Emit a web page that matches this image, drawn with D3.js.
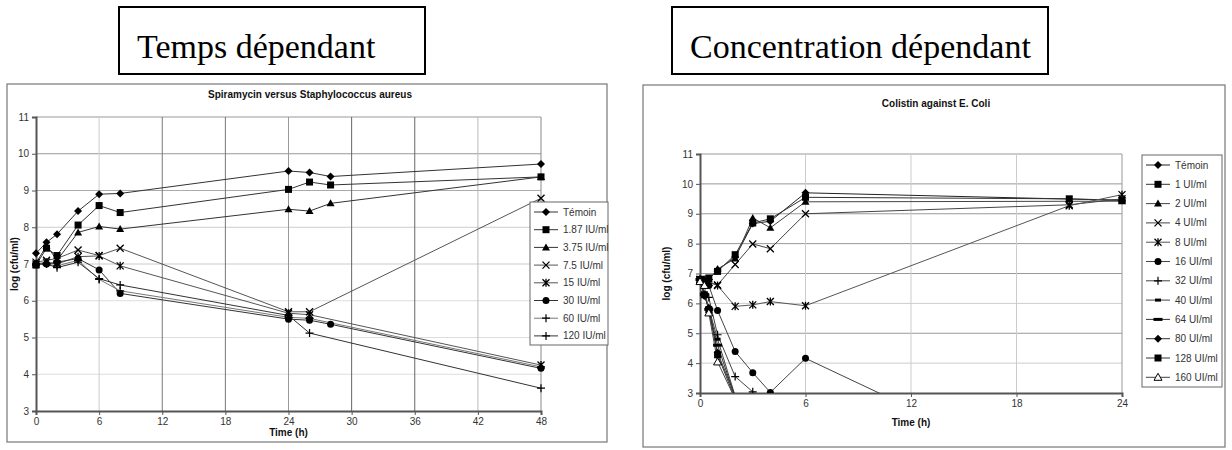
<!DOCTYPE html>
<html>
<head>
<meta charset="utf-8">
<script src="https://cdn.jsdelivr.net/npm/d3@7"></script>
<style>
  body { margin: 0; background: #fff; }
  svg { display: block; }
  text { font-family: "Liberation Sans", Arial, sans-serif; }
</style>
</head>
<body>
<svg id="chart" width="1232" height="450"></svg>
<script>
// ---- data: Spiramycin versus Staphylococcus aureus ----
var spiraTimes = [0, 1, 2, 4, 6, 8, 24, 26, 28, 48];
var spiraNames = ["Témoin", "1.87 IU/ml", "3.75 IU/ml", "7.5 IU/ml", "15 IU/ml", "30 IU/ml", "60 IU/ml", "120 IU/ml"];
var spiraMarkers = ["diamond", "square", "triangle", "x", "star", "circle", "plus", "plus"];
var spiraTemoin = [7.29, 7.59, 7.81, 8.44, 8.90, 8.92, 9.53, 9.49, 9.38, 9.72];
var spira187 = [6.97, 7.43, 7.23, 8.06, 8.59, 8.40, 9.03, 9.23, 9.15, 9.37];
var spira375 = [7.02, 7.50, 7.10, 7.86, 8.02, 7.95, 8.49, 8.44, 8.65, 9.37];
var spira75 = [7.05, 7.10, 7.15, 7.38, 7.23, 7.43, 5.70, 5.70, null, 8.79];
var spira15 = [7.00, 7.05, 7.00, 7.20, 7.22, 6.95, 5.66, 5.62, null, 4.25];
var spira30 = [7.00, 7.00, 7.05, 7.15, 6.84, 6.20, 5.50, 5.47, 5.36, 4.16];
var spira60 = [7.00, 7.00, 6.95, 7.10, 6.58, 6.27, 5.55, 5.52, null, 4.20];
var spira120 = [7.00, 7.00, 6.90, 7.05, 6.60, 6.43, 5.60, 5.12, null, 3.62];
var spiraXTicks = [0, 6, 12, 18, 24, 30, 36, 42, 48];
var logTicks = [3, 4, 5, 6, 7, 8, 9, 10, 11];

// ---- data: Colistin against E. Coli ----
var coliTimes = [0, 0.25, 0.5, 1, 2, 3, 4, 6, 21, 24];
var coliNames = ["Témoin", "1 UI/ml", "2 UI/ml", "4 UI/ml", "8 UI/ml", "16 UI/ml", "32 UI/ml", "40 UI/ml", "64 UI/ml", "80 UI/ml", "128 UI/ml", "160 UI/ml"];
var coliMarkers = ["diamond", "square", "triangle", "x", "star", "circle", "plus", "dash", "bar", "diamond", "square", "triangleOpen"];
var coliTemoin = [6.80, 6.80, 6.80, 7.12, 7.55, 8.67, 8.75, 9.70, null, 9.45];
var coli1 = [6.80, 6.75, 6.85, 7.07, 7.63, 8.69, 8.83, 9.55, 9.50, 9.45];
var coli2 = [6.75, 6.80, 6.80, 7.15, 7.50, 8.86, 8.53, 9.40, null, 9.42];
var coli4 = [6.80, 6.80, 6.70, 6.62, 7.30, 7.99, 7.83, 9.00, 9.30, 9.50];
var coli8 = [6.80, 6.75, 6.70, 6.60, 5.90, 5.95, 6.06, 5.92, 9.27, 9.64];
var coli16 = [6.80, 6.70, 6.60, 5.76, 4.39, 3.68, 3.02, 4.16, 0, null];
var coli32 = [6.80, 6.30, 6.20, 4.95, 3.55, 3.04, null, null, null, null];
var coli40 = [6.75, 6.30, 5.85, 4.80, 2.90, null, null, null, null, null];
var coli64 = [6.80, 6.30, 5.80, 4.60, 2.85, null, null, null, null, null];
var coli80 = [6.80, 6.25, 5.85, 4.35, 2.90, null, null, null, null, null];
var coli128 = [6.80, 6.29, 5.79, 4.28, 2.80, null, null, null, null, null];
var coli160 = [6.73, 6.60, 5.68, 4.04, 2.80, null, null, null, null, null];
var coliXTicks = [0, 6, 12, 18, 24];

var svg = d3.select("#chart");

// header boxes
function headerBox(x, w, label) {
  svg.append("rect").attr("x", x).attr("y", 7).attr("width", w).attr("height", 67)
    .attr("fill", "none").attr("stroke", "#000").attr("stroke-width", 2);
  svg.append("text").attr("x", x + 18).attr("y", 58)
    .style("font-family", "'Liberation Serif', 'Times New Roman', serif")
    .style("font-size", "34px").text(label);
}
headerBox(119, 306, "Temps dépendant");
headerBox(672, 376, "Concentration dépendant");

// marker path drawing
function drawMarker(g, type, cx, cy) {
  var m = g.append("g").attr("transform", "translate(" + cx + "," + cy + ")");
  if (type == "diamond") {
    m.append("path").attr("d", "M0,-4L4,0L0,4L-4,0Z").attr("fill", "#000");
  } else if (type == "square") {
    m.append("rect").attr("x", -3.5).attr("y", -3.5).attr("width", 7).attr("height", 7).attr("fill", "#000");
  } else if (type == "triangle") {
    m.append("path").attr("d", "M0,-4L4,3L-4,3Z").attr("fill", "#000");
  } else if (type == "triangleOpen") {
    m.append("path").attr("d", "M0,-4L4,3L-4,3Z").attr("fill", "#fff").attr("stroke", "#000").attr("stroke-width", 1);
  } else if (type == "circle") {
    m.append("circle").attr("r", 3.5).attr("fill", "#000");
  } else if (type == "x") {
    m.append("path").attr("d", "M-3.5,-3.5L3.5,3.5M3.5,-3.5L-3.5,3.5").attr("stroke", "#000").attr("stroke-width", 1.3);
  } else if (type == "star") {
    m.append("path").attr("d", "M-3.5,-3.5L3.5,3.5M3.5,-3.5L-3.5,3.5M0,-4L0,4").attr("stroke", "#000").attr("stroke-width", 1.3);
  } else if (type == "plus") {
    m.append("path").attr("d", "M-4,0L4,0M0,-4L0,4").attr("stroke", "#000").attr("stroke-width", 1.2);
  } else if (type == "dash") {
    m.append("rect").attr("x", -3).attr("y", -1.5).attr("width", 6).attr("height", 3).attr("fill", "#000");
  } else if (type == "bar") {
    m.append("rect").attr("x", -4.5).attr("y", -1.5).attr("width", 9).attr("height", 3).attr("fill", "#000");
  }
}

function drawChart(o) {
  var x = d3.scaleLinear().domain([o.xTicks[0], o.xTicks[o.xTicks.length - 1]]).range([o.left, o.right]);
  var y = d3.scaleLinear().domain([3, 11]).range([o.bottom, o.top]);
  var g = svg.append("g");

  // outer frame
  g.append("rect").attr("x", o.frame[0]).attr("y", o.frame[1]).attr("width", o.frame[2]).attr("height", o.frame[3])
    .attr("fill", "#fff").attr("stroke", "#777").attr("stroke-width", 1.2);

  g.append("text").attr("x", o.titleX).attr("y", o.titleY).attr("text-anchor", "middle")
    .style("font-size", "10px").style("font-weight", "bold").attr("fill", "#111").text(o.title);

  // grid
  g.append("g").selectAll("line").data(o.yTicks.slice(1)).join("line")
    .attr("x1", o.left).attr("x2", o.right).attr("y1", function (d) { return y(d); }).attr("y2", function (d) { return y(d); })
    .attr("stroke", function (d, i) { return o.hGrid[i]; }).attr("stroke-width", 1);
  g.append("g").selectAll("line").data(o.xTicks.slice(1)).join("line")
    .attr("y1", o.top).attr("y2", o.bottom).attr("x1", function (d) { return x(d); }).attr("x2", function (d) { return x(d); })
    .attr("stroke", function (d, i) { return o.vGrid[i]; }).attr("stroke-width", 1);

  // axes
  var yAxis = g.append("g").attr("transform", "translate(" + o.left + ",0)")
    .call(d3.axisLeft(y).tickValues(o.yTicks).tickSize(4).tickFormat(d3.format("d")));
  var xAxis = g.append("g").attr("transform", "translate(0," + o.bottom + ")")
    .call(d3.axisBottom(x).tickValues(o.xTicks).tickSize(4).tickFormat(d3.format("d")));
  [yAxis, xAxis].forEach(function (a) {
    a.select(".domain").attr("stroke", "#555").attr("stroke-width", 2);
    a.selectAll(".tick line").attr("stroke", "#555");
    a.selectAll(".tick text").style("font-size", "10px").attr("fill", "#333")
      .style("font-family", "'Liberation Sans', Arial, sans-serif");
  });

  g.append("text").attr("transform", "translate(" + o.yLabelX + "," + ((o.top + o.bottom) / 2) + ") rotate(-90)")
    .attr("text-anchor", "middle").style("font-size", "10px").style("font-weight", "bold").attr("fill", "#111")
    .text("log (cfu/ml)");
  g.append("text").attr("x", (o.left + o.right) / 2).attr("y", o.xLabelY).attr("text-anchor", "middle")
    .style("font-size", "10px").style("font-weight", "bold").attr("fill", "#111").text("Time (h)");

  // clipped series
  var clipId = "clip" + o.id;
  svg.append("defs").append("clipPath").attr("id", clipId).append("rect")
    .attr("x", o.left - 6).attr("y", o.top - 6).attr("width", o.right - o.left + 12).attr("height", o.bottom - o.top + 6);
  var plot = g.append("g").attr("clip-path", "url(#" + clipId + ")");
  var line = d3.line()
    .defined(function (d) { return d[1] != null; })
    .x(function (d) { return x(d[0]); }).y(function (d) { return y(d[1]); });

  o.series.forEach(function (vals, i) {
    var pts = o.times.map(function (t, j) { return [t, vals[j]]; }).filter(function (d) { return d[1] != null; });
    plot.append("path").datum(pts).attr("d", line).attr("fill", "none")
      .attr("stroke", o.lineColors[i]).attr("stroke-width", 1);
  });
  o.series.forEach(function (vals, i) {
    o.times.forEach(function (t, j) {
      var v = vals[j];
      if (v == null || v < 3) return;
      drawMarker(plot, o.markers[i], x(t), y(v));
    });
  });

  // legend
  var lg = g.append("g");
  lg.append("rect").attr("x", o.legend[0]).attr("y", o.legend[1]).attr("width", o.legend[2]).attr("height", o.legend[3])
    .attr("fill", "#fff").attr("stroke", "#666").attr("stroke-width", 1);
  o.names.forEach(function (name, i) {
    var ly = o.legend[1] + o.legendFirst + i * o.legendStep;
    var lx = o.legend[0] + 4;
    lg.append("line").attr("x1", lx).attr("x2", lx + 24).attr("y1", ly).attr("y2", ly)
      .attr("stroke", o.lineColors[i]).attr("stroke-width", 1);
    drawMarker(lg, o.markers[i], lx + 12, ly);
    lg.append("text").attr("x", lx + 29).attr("y", ly + 3.5).style("font-size", "10px").attr("fill", "#333").text(name);
  });
}

drawChart({
  id: "L",
  title: "Spiramycin versus Staphylococcus aureus",
  titleX: 310, titleY: 98,
  frame: [7, 84, 600, 358],
  left: 36, right: 541, top: 117, bottom: 411,
  xTicks: spiraXTicks, yTicks: logTicks,
  hGrid: ["#ddd", "#ddd", "#ddd", "#ccc", "#ccc", "#aaa", "#999", "#999"],
  vGrid: ["#ccc", "#777", "#777", "#999", "#666", "#666", "#bbb", "#888"],
  yLabelX: 18, xLabelY: 436,
  times: spiraTimes,
  series: [spiraTemoin, spira187, spira375, spira75, spira15, spira30, spira60, spira120],
  names: spiraNames, markers: spiraMarkers,
  lineColors: ["#333", "#333", "#333", "#555", "#555", "#333", "#777", "#333"],
  legend: [530, 202, 78, 143], legendFirst: 10, legendStep: 17.7
});

drawChart({
  id: "R",
  title: "Colistin against E. Coli",
  titleX: 936, titleY: 107,
  frame: [643, 85, 582, 362],
  left: 700, right: 1122, top: 154, bottom: 393,
  xTicks: coliXTicks, yTicks: logTicks,
  hGrid: ["#ccc", "#999", "#ccc", "#999", "#999", "#999", "#999", "#999"],
  vGrid: ["#ccc", "#ccc", "#ccc", "#999"],
  yLabelX: 670, xLabelY: 426,
  times: coliTimes,
  series: [coliTemoin, coli1, coli2, coli4, coli8, coli16, coli32, coli40, coli64, coli80, coli128, coli160],
  names: coliNames, markers: coliMarkers,
  lineColors: ["#222", "#333", "#444", "#444", "#555", "#444", "#444", "#444", "#333", "#333", "#333", "#444"],
  legend: [1142, 155, 80, 232], legendFirst: 10, legendStep: 19.3
});
</script>
</body>
</html>
